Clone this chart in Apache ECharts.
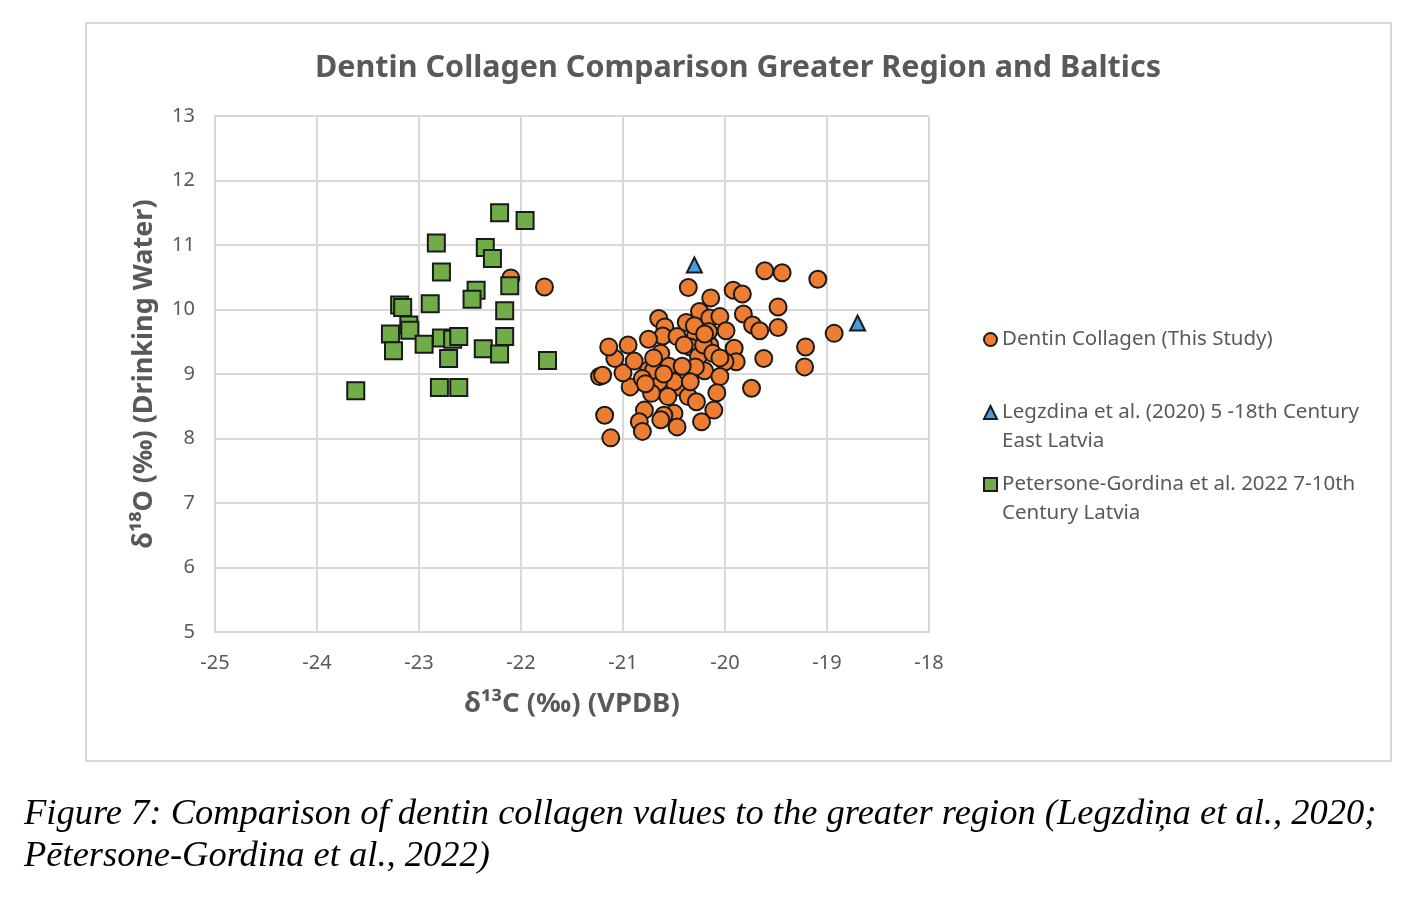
<!DOCTYPE html>
<html>
<head>
<meta charset="utf-8">
<title>Dentin Collagen Comparison</title>
<script src="https://cdn.jsdelivr.net/npm/echarts@6/dist/echarts.min.js"></script>
<style>
  html, body { margin: 0; padding: 0; background: #fff; }
  #chart-container { width: 1428px; height: 904px; }
</style>
</head>
<body>
<div id="chart-container"></div>
<script>
// series values: [δ13C, δ18O]
var dentinThisStudy = [
  [-20.36, 10.34], [-20.14, 10.18], [-19.92, 10.30], [-19.83, 10.24], [-19.61, 10.60],
  [-19.44, 10.57], [-19.09, 10.47], [-19.48, 10.04], [-19.82, 9.93], [-19.73, 9.76],
  [-19.66, 9.67], [-19.48, 9.72], [-18.93, 9.63], [-19.21, 9.42], [-19.22, 9.11],
  [-19.62, 9.24], [-19.74, 8.78], [-20.25, 9.97], [-20.15, 9.87], [-20.05, 9.89],
  [-19.99, 9.67], [-20.38, 9.80], [-20.65, 9.86], [-20.59, 9.73], [-20.61, 9.59],
  [-20.75, 9.54], [-20.47, 9.58], [-20.29, 9.59], [-20.15, 9.45], [-20.16, 9.66],
  [-19.91, 9.40], [-19.89, 9.19], [-20.00, 9.19], [-20.63, 9.32], [-20.34, 9.42],
  [-20.26, 9.27], [-20.20, 9.05], [-20.29, 9.11], [-20.05, 8.96], [-20.08, 8.71],
  [-20.11, 8.44], [-20.23, 8.26], [-20.47, 8.80], [-20.36, 8.65], [-20.28, 8.57],
  [-20.50, 8.88], [-20.65, 8.88], [-20.72, 8.70], [-20.56, 8.65], [-20.50, 8.39],
  [-20.60, 8.36], [-20.63, 8.29], [-20.47, 8.18], [-20.79, 8.44], [-20.84, 8.26],
  [-20.81, 8.11], [-21.18, 8.36], [-21.12, 8.01], [-21.23, 8.96], [-20.93, 8.80],
  [-21.00, 9.02], [-21.08, 9.24], [-21.14, 9.42], [-20.95, 9.45], [-20.89, 9.20],
  [-20.75, 9.06], [-20.70, 9.06], [-20.55, 9.12], [-20.81, 8.93], [-20.78, 8.85],
  [-20.34, 8.88], [-22.10, 10.49], [-21.77, 10.35], [-20.21, 9.45], [-20.40, 9.45],
  [-20.30, 9.75], [-20.12, 9.32], [-20.42, 9.12], [-20.60, 9.00], [-20.20, 9.62],
  [-21.20, 8.98], [-20.05, 9.25], [-20.70, 9.25]
];
var legzdina2020 = [
  [-20.30, 10.69], [-18.70, 9.79]
];
var petersoneGordina2022 = [
  [-22.21, 11.50], [-21.96, 11.38], [-22.83, 11.03], [-22.35, 10.96], [-22.28, 10.79],
  [-22.78, 10.58], [-22.11, 10.37], [-22.44, 10.30], [-22.48, 10.16], [-23.19, 10.07],
  [-23.16, 10.03], [-22.89, 10.09], [-22.16, 9.98], [-23.10, 9.76], [-23.09, 9.68],
  [-23.28, 9.62], [-22.95, 9.46], [-22.78, 9.56], [-22.67, 9.54], [-22.61, 9.58],
  [-22.16, 9.58], [-22.37, 9.39], [-22.21, 9.31], [-23.25, 9.36], [-22.71, 9.24],
  [-21.74, 9.21], [-23.62, 8.74], [-22.80, 8.79], [-22.61, 8.79]
];

var seriesNames = [
  'Dentin Collagen (This Study)',
  'Legzdina et al. (2020) 5 -18th Century\nEast Latvia',
  'Petersone-Gordina et al. 2022 7-10th\nCentury Latvia'
];
var xRange = [-25, -18];
var yRange = [5, 13];

var dom = document.getElementById('chart-container');
var myChart = echarts.init(dom, null, { renderer: 'canvas' });

var font = '"Noto Sans", "Open Sans", sans-serif';
var grey = '#595959';
var gridGrey = '#d9d9d9';

// one legend per entry so each can sit where Excel put it;
// two-line names get a leading empty line so the icon lines up with the first line
function legendFor(name, top, twoLines) {
  return {
    data: [name],
    orient: 'vertical',
    left: 983,
    top: top,
    padding: 0,
    itemWidth: 13,
    itemHeight: 13,
    formatter: function (n) { return twoLines ? '\n' + n : n; },
    textStyle: {
      fontFamily: font,
      fontSize: 20.5,
      color: grey,
      lineHeight: 29
    }
  };
}

var option = {
  backgroundColor: '#fff',
  animation: false,
  title: {
    text: 'Dentin Collagen Comparison Greater Region and Baltics',
    left: 733,
    textAlign: 'center',
    top: 48,
    textStyle: {
      fontFamily: font,
      fontSize: 30.5,
      fontWeight: 'bold',
      color: grey
    }
  },
  legend: [
    legendFor(seriesNames[0], 325, false),
    legendFor(seriesNames[1], 369, true),
    legendFor(seriesNames[2], 441, true)
  ],
  grid: {
    left: 215,
    top: 116,
    right: 499,
    bottom: 272
  },
  xAxis: {
    type: 'value',
    min: xRange[0],
    max: xRange[1],
    interval: 1,
    name: 'δ¹³C (‰) (VPDB)',
    nameLocation: 'middle',
    nameGap: 58,
    nameTextStyle: { fontFamily: font, fontSize: 27.5, fontWeight: 'bold', color: grey },
    axisLine: { show: true, onZero: false, lineStyle: { color: gridGrey, width: 2 } },
    axisTick: { show: false },
    axisLabel: { fontFamily: font, fontSize: 20, color: grey, margin: 21 },
    splitLine: { show: true, lineStyle: { color: gridGrey, width: 2 } }
  },
  yAxis: {
    type: 'value',
    min: yRange[0],
    max: yRange[1],
    interval: 1,
    name: 'δ¹⁸O (‰) (Drinking Water)',
    nameLocation: 'middle',
    nameGap: 57,
    nameTextStyle: { fontFamily: font, fontSize: 27, fontWeight: 'bold', color: grey },
    axisLine: { show: true, onZero: false, lineStyle: { color: gridGrey, width: 2 } },
    axisTick: { show: false },
    axisLabel: { fontFamily: font, fontSize: 20, color: grey, margin: 20 },
    splitLine: { show: true, lineStyle: { color: gridGrey, width: 2 } }
  },
  series: [
    {
      name: seriesNames[0],
      type: 'scatter',
      symbol: 'circle',
      symbolSize: 17,
      data: dentinThisStudy,
      itemStyle: { color: '#ED7D31', borderColor: '#1a1a1a', borderWidth: 2, opacity: 1 }
    },
    {
      name: seriesNames[1],
      type: 'scatter',
      symbol: 'triangle',
      symbolSize: 15,
      data: legzdina2020,
      itemStyle: { color: '#4A9BDB', borderColor: '#1a1a1a', borderWidth: 2, opacity: 1 }
    },
    {
      name: seriesNames[2],
      type: 'scatter',
      symbol: 'rect',
      symbolSize: 17,
      data: petersoneGordina2022,
      itemStyle: { color: '#70AD47', borderColor: '#1a1a1a', borderWidth: 2, opacity: 1 }
    }
  ],
  graphic: [
    {
      type: 'rect',
      shape: { x: 86, y: 23, width: 1305, height: 738 },
      style: { fill: 'none', stroke: gridGrey, lineWidth: 2 },
      z: -1
    },
    {
      type: 'text',
      left: 24,
      top: 796,
      style: {
        text: 'Figure 7: Comparison of dentin collagen values to the greater region (Legzdiņa et al., 2020;',
        font: 'italic 36.5px "Liberation Serif", "DejaVu Serif", serif',
        fill: '#000'
      }
    },
    {
      type: 'text',
      left: 24,
      top: 838,
      style: {
        text: 'Pētersone-Gordina et al., 2022)',
        font: 'italic 36.5px "Liberation Serif", "DejaVu Serif", serif',
        fill: '#000'
      }
    }
  ]
};

myChart.setOption(option);
window.addEventListener('resize', myChart.resize);
</script>
</body>
</html>
